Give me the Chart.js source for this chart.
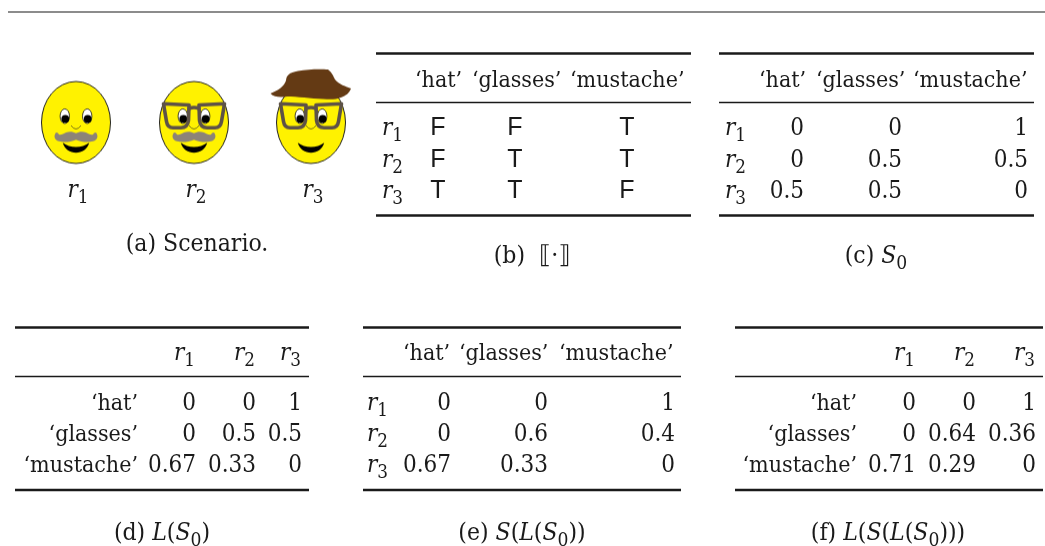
<!DOCTYPE html>
<html lang="en">
<head>
<meta charset="UTF-8">
<title>Scenario and speaker / listener tables</title>
<script src="https://cdn.jsdelivr.net/npm/chart.js"></script>
<style>
  html, body { margin: 0; background: #fff; }
  canvas { display: block; }
</style>
</head>
<body>
<canvas id="figure" width="1045" height="546"></canvas>
<script>
// table contents
const referents = ['*r_1', '*r_2', '*r_3'];
const utterances = ['‘hat’', '‘glasses’', '‘mustache’'];

const truth = [[false, false, true], [false, true, true], [true, true, false]];
const s0 = [[0, 0, 1], [0, 0.5, 0.5], [0.5, 0.5, 0]];
const lS0 = [[0, 0, 1], [0, 0.5, 0.5], [0.67, 0.33, 0]];
const sLS0 = [[0, 0, 1], [0, 0.6, 0.4], [0.67, 0.33, 0]];
const lSLS0 = [[0, 0, 1], [0, 0.64, 0.36], [0.71, 0.29, 0]];

const captions = ['(a) Scenario.', '(b)  ⟦·⟧', '(c) *S_0', '(d) *L(*S_0)', '(e) *S(*L(*S_0))', '(f) *L(*S(*L(*S_0)))'];

// layout in figure units, the axes below run 0-1045 and 0-546
const topRow = { top: 53.5, mid: 102.5, bottom: 215.5, header: 87, rows: [135, 167, 198], caption: 263 };
const lowRow = { top: 327.5, mid: 376.5, bottom: 490, header: 360, rows: [410, 441, 472], caption: 540 };

const tables = [
  { row: topRow, x0: 376, x1: 691, rowLabels: referents, rowX: 382, rowAlign: 'left', heads: utterances, headX: [415, 472, 570],
    cells: truth, cellX: [438, 515, 627], cellAlign: 'center', captionX: 532, captionIndex: 1 },
  { row: topRow, x0: 719, x1: 1034, rowLabels: referents, rowX: 725, rowAlign: 'left', heads: utterances, headX: [759, 816, 913],
    cells: s0, cellX: [804, 902, 1028], cellAlign: 'right', captionX: 876, captionIndex: 2 },
  { row: lowRow, x0: 15, x1: 309, rowLabels: utterances, rowX: 138, rowAlign: 'right', heads: referents, headX: [174, 234, 280],
    cells: lS0, cellX: [196, 256, 302], cellAlign: 'right', captionX: 162, captionIndex: 3 },
  { row: lowRow, x0: 363, x1: 681, rowLabels: referents, rowX: 367, rowAlign: 'left', heads: utterances, headX: [403, 459, 559],
    cells: sLS0, cellX: [451, 548, 675], cellAlign: 'right', captionX: 522, captionIndex: 4 },
  { row: lowRow, x0: 735, x1: 1043, rowLabels: utterances, rowX: 857, rowAlign: 'right', heads: referents, headX: [894, 954, 1014],
    cells: lSLS0, cellX: [916, 976, 1036], cellAlign: 'right', captionX: 888, captionIndex: 5 }
];

const faceX = [76, 194, 311];
const faceY = 122.5;
const faceLabelY = 197;

const SERIF = '"DejaVu Serif Condensed", "DejaVu Serif"';
const TEXT_SIZE = 24;
const WORD_SIZE = 23;
const CAPTION_SIZE = 24.5;
const INK = '#1a1a1a';

// the features of each face come straight from the truth table
function makeFace(hat, glasses, mustache) {
  const c = document.createElement('canvas');
  c.width = 100; c.height = 120;
  const g = c.getContext('2d');
  g.translate(50, 60);

  g.beginPath();
  g.ellipse(0, 0, 34.5, 41, 0, 0, Math.PI * 2);
  g.fillStyle = '#fff200';
  g.fill();
  g.lineWidth = 1;
  g.strokeStyle = '#222';
  g.stroke();

  [-1, 1].forEach(side => {
    g.beginPath();
    g.ellipse(side * 11.2, -6.3, 4.7, 7.3, 0, 0, Math.PI * 2);
    g.fillStyle = '#fff';
    g.fill();
    g.lineWidth = 0.8;
    g.strokeStyle = '#111';
    g.stroke();
    g.beginPath();
    g.arc(side * 11.2 + 0.5, -3.6, 3.9, 0, Math.PI * 2);
    g.fillStyle = '#000';
    g.fill();
  });

  // nose
  g.beginPath();
  g.moveTo(-5, 3);
  g.quadraticCurveTo(0, 10, 5, 3);
  g.lineWidth = 0.6;
  g.strokeStyle = '#222';
  g.stroke();

  // mouth
  g.beginPath();
  g.moveTo(-13.2, 20.3);
  g.bezierCurveTo(-6, 26, 6, 26, 13.2, 20.3);
  g.bezierCurveTo(10, 33.5, -10, 33.5, -13.2, 20.3);
  g.fillStyle = '#000';
  g.fill();

  if (mustache) {
    g.beginPath();
    g.moveTo(0, 10.8);
    g.bezierCurveTo(-3, 8.8, -7, 8.8, -10, 10);
    g.bezierCurveTo(-13, 11.5, -17, 14, -18, 10.5);
    g.lineTo(-20, 10);
    g.bezierCurveTo(-22.5, 13, -22, 17.5, -17, 18.8);
    g.bezierCurveTo(-11, 20.5, -5, 19, 0, 17.2);
    g.bezierCurveTo(5, 19, 11, 20.5, 17, 18.8);
    g.bezierCurveTo(22, 17.5, 22.5, 13, 20, 10);
    g.lineTo(18, 10.5);
    g.bezierCurveTo(17, 14, 13, 11.5, 10, 10);
    g.bezierCurveTo(7, 8.8, 3, 8.8, 0, 10.8);
    g.fillStyle = '#8c8378';
    g.fill();
  }

  if (glasses) {
    g.strokeStyle = '#5d5247';
    g.lineWidth = 3.6;
    g.lineJoin = 'round';
    [-1, 1].forEach(side => {
      g.beginPath();
      g.moveTo(side * 30.5, -18.8);
      g.lineTo(side * 5, -17.5);
      g.lineTo(side * 5.5, -2);
      g.quadraticCurveTo(side * 6.5, 5.2, side * 13, 5.2);
      g.lineTo(side * 21, 5.2);
      g.quadraticCurveTo(side * 26.5, 5.2, side * 27.5, -1);
      g.closePath();
      g.stroke();
    });
    g.beginPath();
    g.moveTo(-5, -14);
    g.quadraticCurveTo(0, -16, 5, -14);
    g.stroke();
  }

  if (hat) {
    g.beginPath();
    g.moveTo(-40.5, -29);
    g.bezierCurveTo(-33, -32, -27, -36, -25, -42);
    g.bezierCurveTo(-24.5, -47, -22, -50, -13, -51.5);
    g.bezierCurveTo(-3, -53.5, 10, -53.5, 17, -53);
    g.bezierCurveTo(21, -50, 22, -47, 24, -43);
    g.bezierCurveTo(28, -38, 35, -36, 40, -34);
    g.bezierCurveTo(38, -29, 35, -27, 30, -25);
    g.bezierCurveTo(25, -23, 20, -23, 12, -23.5);
    g.bezierCurveTo(0, -24, -14, -26, -24, -26);
    g.bezierCurveTo(-30, -25, -37, -25, -40.5, -29);
    g.fillStyle = '#643a14';
    g.fill();
  }
  return c;
}

// markup: * makes the next letter italic, _ makes the next letter a subscript
function parseRuns(text) {
  const runs = [];
  let italic = false, sub = false;
  for (const ch of text) {
    if (ch === '*') { italic = true; continue; }
    if (ch === '_') { sub = true; continue; }
    runs.push({ ch, italic, sub });
    italic = false; sub = false;
  }
  return runs;
}

function drawRich(ctx, text, x, y, align, size = TEXT_SIZE) {
  const runs = parseRuns(text);
  const fontOf = r => (r.italic ? 'italic ' : '') + (r.sub ? size * 0.78 : size) + 'px ' + SERIF + ', "DejaVu Sans"';
  // group plain runs so that kerning stays as the font wants it
  const groups = [];
  runs.forEach(r => {
    const last = groups[groups.length - 1];
    if (last && last.italic === r.italic && last.sub === r.sub) last.text += r.ch;
    else groups.push({ text: r.ch, italic: r.italic, sub: r.sub });
  });
  let width = 0;
  groups.forEach(gr => { ctx.font = fontOf(gr); gr.w = ctx.measureText(gr.text).width; width += gr.w; });
  let px = align === 'right' ? x - width : align === 'center' ? x - width / 2 : x;
  ctx.textAlign = 'left';
  ctx.textBaseline = 'alphabetic';
  groups.forEach(gr => {
    ctx.font = fontOf(gr);
    ctx.fillText(gr.text, px, gr.sub ? y + 6 : y);
    px += gr.w;
  });
}

const tableText = {
  id: 'tableText',
  afterDatasetsDraw(chart) {
    const ctx = chart.ctx;
    const xs = chart.scales.x, ys = chart.scales.y;
    const sizeOf = label => (label.startsWith('*') ? TEXT_SIZE : WORD_SIZE);
    ctx.save();
    ctx.fillStyle = INK;
    referents.forEach((r, i) => drawRich(ctx, r, xs.getPixelForValue(faceX[i] + 2), ys.getPixelForValue(faceLabelY), 'center'));
    drawRich(ctx, captions[0], xs.getPixelForValue(197), ys.getPixelForValue(251), 'center', CAPTION_SIZE);
    tables.forEach(t => {
      const row = t.row;
      t.heads.forEach((h, i) => drawRich(ctx, h, xs.getPixelForValue(t.headX[i]), ys.getPixelForValue(row.header), 'left', sizeOf(h)));
      t.rowLabels.forEach((l, i) => drawRich(ctx, l, xs.getPixelForValue(t.rowX), ys.getPixelForValue(row.rows[i]), t.rowAlign, sizeOf(l)));
      t.cells.forEach((cells, i) => cells.forEach((v, j) => {
        const px = xs.getPixelForValue(t.cellX[j]), py = ys.getPixelForValue(row.rows[i]);
        if (typeof v === 'boolean') {
          ctx.font = '25px "Liberation Sans"';
          ctx.textAlign = 'center';
          ctx.fillText(v ? 'T' : 'F', px, py);
        } else {
          drawRich(ctx, String(v), px, py, t.cellAlign);
        }
      }));
      drawRich(ctx, captions[t.captionIndex], xs.getPixelForValue(t.captionX), ys.getPixelForValue(row.caption), 'center', CAPTION_SIZE);
    });
    ctx.restore();
  }
};

function rule(x0, x1, y, width, color) {
  return { type: 'scatter', showLine: true, pointRadius: 0, borderColor: color, borderWidth: width, data: [{ x: x0, y }, { x: x1, y }] };
}

const datasets = [rule(8, 1045, 12, 1.5, '#666')];
tables.forEach(t => {
  datasets.push(rule(t.x0, t.x1, t.row.top, 2.4, INK));
  datasets.push(rule(t.x0, t.x1, t.row.mid, 1.3, INK));
  datasets.push(rule(t.x0, t.x1, t.row.bottom, 2.4, INK));
});
datasets.push({
  type: 'scatter',
  data: faceX.map(x => ({ x, y: faceY })),
  pointStyle: truth.map(row => makeFace(row[0], row[1], row[2])),
  pointRadius: 40
});

new Chart(document.getElementById('figure').getContext('2d'), {
  type: 'scatter',
  data: { datasets },
  options: {
    responsive: false,
    animation: false,
    layout: { padding: 0, autoPadding: false },
    plugins: { legend: { display: false }, tooltip: { enabled: false } },
    scales: {
      x: { type: 'linear', display: false, min: 0, max: 1045 },
      y: { type: 'linear', display: false, min: 0, max: 546, reverse: true }
    }
  },
  plugins: [tableText]
});
</script>
</body>
</html>
